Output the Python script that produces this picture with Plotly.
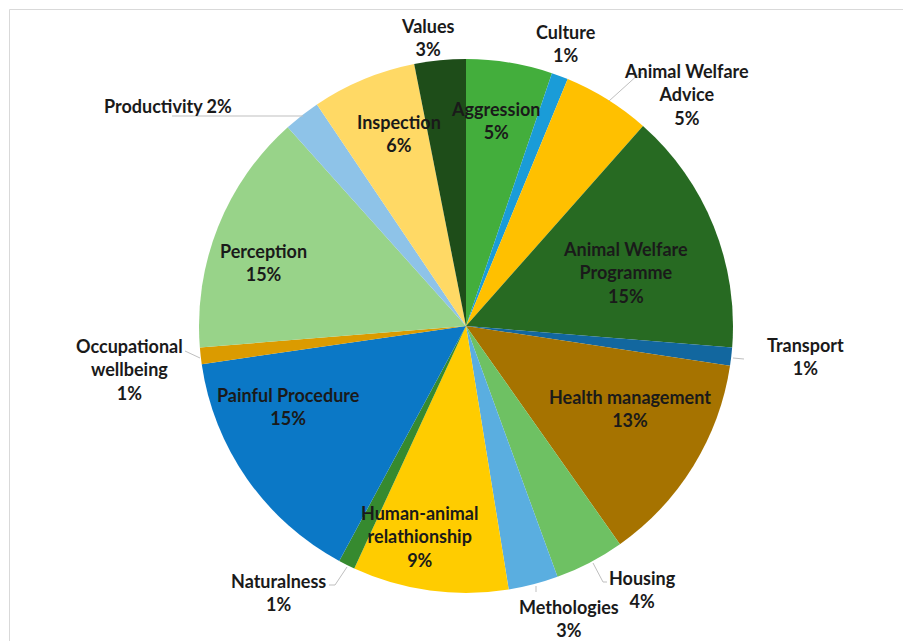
import plotly.graph_objects as go

W, H = 911, 641
OFF = 8  # page body margin of the written html

categories = [
    "Aggression", "Culture", "Animal Welfare Advice", "Animal Welfare Programme",
    "Transport", "Health management", "Housing", "Methologies",
    "Human-animal relathionship", "Naturalness", "Painful Procedure",
    "Occupational wellbeing", "Perception", "Productivity", "Inspection", "Values",
]
values = [5.2, 1.0, 5.3, 14.7, 1.1, 12.8, 4.2, 3.0, 9.4, 1.0, 14.8, 1.0, 14.6, 2.2, 6.3, 3.1]
colors = [
    "#43AE3C", "#1A9CD8", "#FFC000", "#276A22", "#12679F", "#A67300", "#6EC163", "#5AAEE0",
    "#FFCC00", "#368A2F", "#0B78C6", "#DB9B00", "#98D389", "#8EC3E8", "#FFD965", "#1E4D19",
]
# wrapped label text as shown on the chart
label_text = [
    "Aggression", "Culture", "Animal Welfare<br>Advice", "Animal Welfare<br>Programme",
    "Transport", "Health management", "Housing", "Methologies",
    "Human-animal<br>relathionship", "Naturalness", "Painful Procedure",
    "Occupational<br>wellbeing", "Perception", "Productivity", "Inspection", "Values",
]
# label centres in pixels
label_pos = [
    (495, 121), (566, 44), (686, 94), (625, 273), (805, 356), (630, 408),
    (642, 589), (569, 618), (419, 536), (278, 592), (288, 407), (129, 369),
    (263, 262), (168, 106), (399, 134), (428, 38),
]
# leader lines in pixels
leaders = [
    [(609, 101), (640, 73), (643, 73)],
    [(733, 358), (744, 359)],
    [(593, 563), (603, 582), (607, 582)],
    [(536, 586), (536, 592)],
    [(347, 567), (335, 585), (329, 585)],
    [(200, 358), (185, 351)],
    [(303, 116), (172, 116)],
]

total = sum(values)


def px(x, y):
    return (x - OFF) / W, 1 - (y - OFF) / H


x0, y1 = px(199, 59)
x1, y0 = px(733, 593)

fig = go.Figure(
    go.Pie(
        labels=categories,
        values=values,
        sort=False,
        direction="clockwise",
        rotation=0,
        marker=dict(colors=colors, line=dict(width=0)),
        textinfo="none",
        hoverinfo="label+percent",
        domain=dict(x=[x0, x1], y=[y0, y1]),
        showlegend=False,
    )
)

for txt, v, (x, y), cat in zip(label_text, values, label_pos, categories):
    pct = f"{round(v / total * 100)}%"
    text = f"{txt} {pct}" if cat == "Productivity" else f"{txt}<br>{pct}"
    ax, ay = px(x, y)
    fig.add_annotation(
        x=ax, y=ay, xref="paper", yref="paper", text=f"<b>{text}</b>", showarrow=False,
        font=dict(family="Lato", size=18, color="#1a1a1a"), align="center",
        xanchor="center", yanchor="middle",
    )

for pts in leaders:
    path = "M " + " L ".join(f"{px(x, y)[0]},{px(x, y)[1]}" for x, y in pts)
    fig.add_shape(type="path", path=path, xref="paper", yref="paper",
                  line=dict(color="#bfbfbf", width=1))

bx0, by1 = px(9.5, 9.5)
fig.add_shape(type="rect", xref="paper", yref="paper",
              x0=bx0, y0=-0.05, x1=1.05, y1=by1,
              line=dict(color="#d9d9d9", width=1))

fig.update_layout(
    width=W, height=H,
    margin=dict(l=0, r=0, t=0, b=0),
    paper_bgcolor="white",
    plot_bgcolor="white",
    font=dict(family="Lato"),
)

fig.write_html("out.html")
